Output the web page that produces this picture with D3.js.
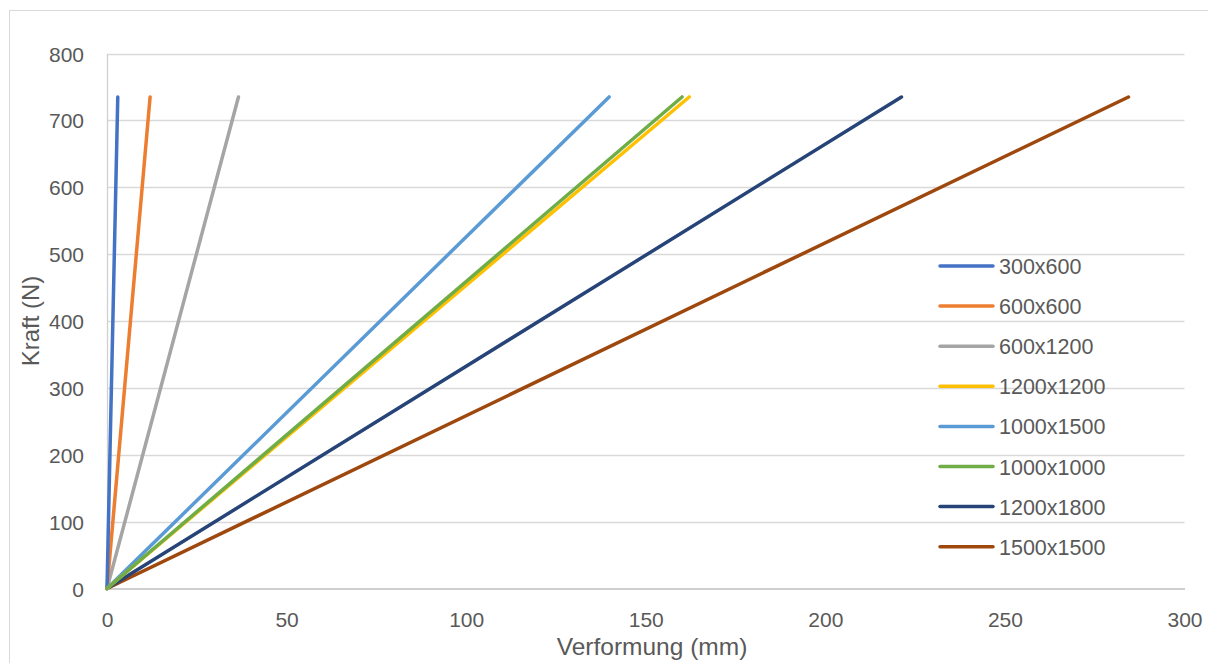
<!DOCTYPE html>
<html><head><meta charset="utf-8">
<script src="https://cdn.jsdelivr.net/npm/d3@7"></script>
<style>body{margin:0;background:#fff;}svg{display:block;font-family:"Liberation Sans","Open Sans",sans-serif;}</style>
</head><body>
<svg id="c" width="1208" height="663"></svg>
<script>
const seriesNames = ["300x600","600x600","600x1200","1200x1200","1000x1500","1000x1000","1200x1800","1500x1500"];
const seriesColors = ["#4472C4","#ED7D31","#A5A5A5","#FFC000","#5B9BD5","#70AD47","#264478","#9E480E"];
const endDeformation = [3.0, 12.0, 36.6, 162.1, 139.8, 160.1, 221.2, 284.4];
const startDeformation = [0,0,0,0,0,0,0,0];
const forceStart = 0;
const forceEnd = 735;
const xTicks = [0,50,100,150,200,250,300];
const yTicks = [0,100,200,300,400,500,600,700,800];

const svg = d3.select("#c");
svg.append("rect").attr("x",9.5).attr("y",10.5).attr("width",1220).attr("height",700)
  .attr("fill","#fff").attr("stroke","#d9d9d9").attr("stroke-width",1);

const x = d3.scaleLinear().domain([0,300]).range([107,1184.5]);
const y = d3.scaleLinear().domain([0,800]).range([588.5,53.5]);

// gridlines
svg.append("g").selectAll("line").data(yTicks.filter(d=>d>0)).join("line")
  .attr("x1",x(0)).attr("x2",x(300)).attr("y1",d=>Math.round(y(d))+0.5).attr("y2",d=>Math.round(y(d))+0.5)
  .attr("stroke","#d9d9d9").attr("stroke-width",1.3);

// axes
const xAxis = d3.axisBottom(x).tickValues(xTicks).tickSize(0).tickPadding(0);
const gx = svg.append("g").attr("transform",`translate(0,${y(0)})`).call(xAxis);
gx.select(".domain").attr("stroke","#bfbfbf").attr("stroke-width",1.5);
gx.selectAll("text").attr("fill","#595959").attr("font-size",21).attr("dy",null).attr("y",38);

const yAxis = d3.axisLeft(y).tickValues(yTicks).tickSize(0).tickPadding(23);
const gy = svg.append("g").attr("transform",`translate(${x(0)},0)`).call(yAxis);
gy.select(".domain").attr("stroke","#d0d0d0").attr("stroke-width",1.3);
gy.selectAll("text").attr("fill","#595959").attr("font-size",21).attr("dy","0.36em");

// axis titles
svg.append("text").attr("x",652).attr("y",655).attr("text-anchor","middle")
  .attr("fill","#595959").attr("font-size",24.5).text("Verformung (mm)");
svg.append("text").attr("transform","translate(39,321) rotate(-90)").attr("text-anchor","middle")
  .attr("fill","#595959").attr("font-size",24).text("Kraft (N)");

// series
const line = d3.line().x(d=>x(d[0])).y(d=>y(d[1]));
const data = seriesNames.map((n,i)=>({name:n,color:seriesColors[i],
  pts:[[startDeformation[i],forceStart],[endDeformation[i],forceEnd]]}));
const order = [7,6,2,1,0,4,3,5];
svg.append("g").selectAll("path").data(order.map(i=>data[i])).join("path")
  .attr("d",d=>line(d.pts)).attr("fill","none").attr("stroke",d=>d.color)
  .attr("stroke-width",3.5).attr("stroke-linecap","round");

// legend
const lg = svg.append("g").selectAll("g").data(data).join("g")
  .attr("transform",(d,i)=>`translate(940,${266+i*40.1})`);
lg.append("line").attr("x1",0).attr("x2",53).attr("stroke",d=>d.color).attr("stroke-width",3.5).attr("stroke-linecap","round");
lg.append("text").attr("x",59).attr("y",8).attr("fill","#595959").attr("font-size",21.5).text(d=>d.name);
</script>
</body></html>
